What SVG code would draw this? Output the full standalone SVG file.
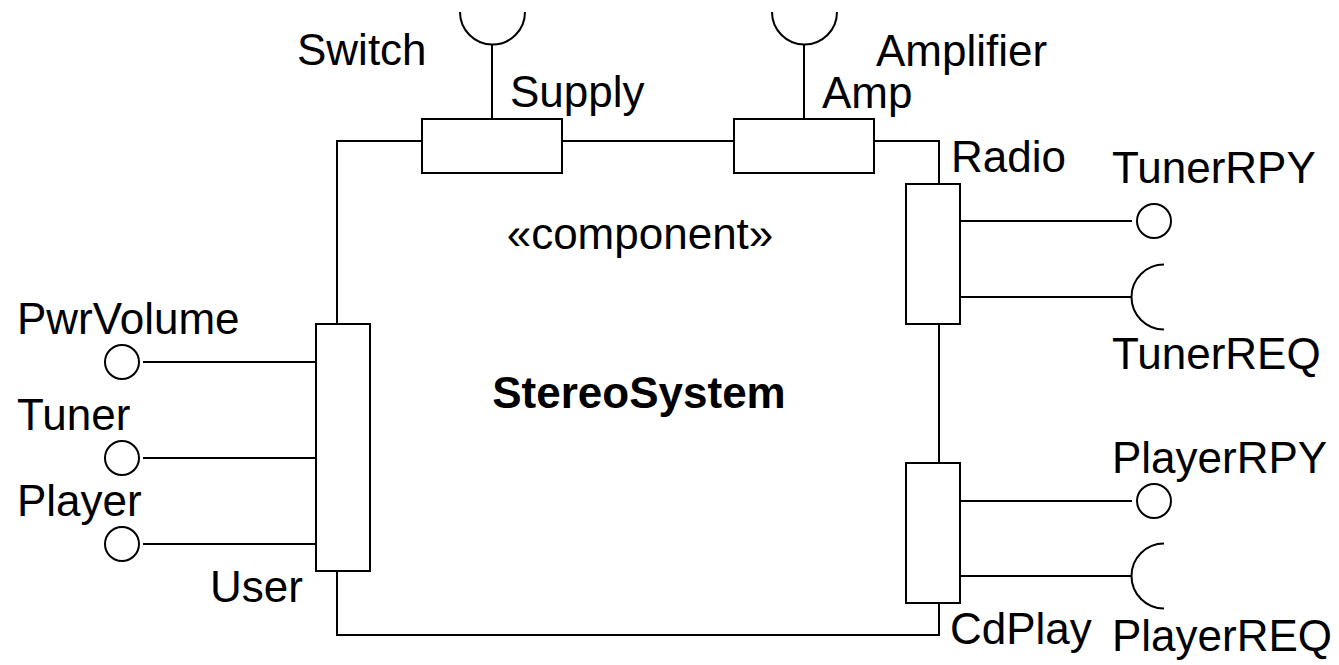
<svg xmlns="http://www.w3.org/2000/svg" width="1339" height="665" viewBox="0 0 1339 665">
<style>
.ln{fill:none;stroke:#000;stroke-width:2}
.port{fill:#fff;stroke:#000;stroke-width:2}
text{font-family:"Liberation Sans",Arial,sans-serif;font-size:44px;fill:#000}
.b{font-weight:bold}
</style>
<rect width="1339" height="665" fill="#fff"/>
<g id="connectors">
<path class="ln" d="M337,324 V141 H422 M562,141 H734 M874,141 H939 V184 M939,324 V463 M939,603 V635 H337 V571"/>
<path class="ln" d="M492,119 V44 M804,119 V44"/>
<path class="ln" d="M143,362 H316 M143,458 H316 M143,544 H316"/>
<path class="ln" d="M960,221 H1132 M960,297 H1132 M960,501 H1132 M960,576 H1132"/>
</g>
<g id="StereoSystem">
<text x="640" y="249" text-anchor="middle">«component»</text>
<text class="b" x="639" y="408" text-anchor="middle">StereoSystem</text>
</g>
<g id="port-Supply">
<rect class="port" x="422" y="119" width="140" height="54"/>
<text x="510" y="107">Supply</text>
</g>
<g id="port-Amp">
<rect class="port" x="734" y="119" width="140" height="54"/>
<text x="822" y="108">Amp</text>
</g>
<g id="port-Radio">
<rect class="port" x="906" y="184" width="54" height="140"/>
<text x="951" y="172">Radio</text>
</g>
<g id="port-CdPlay">
<rect class="port" x="906" y="463" width="54" height="140"/>
<text x="950" y="644">CdPlay</text>
</g>
<g id="port-User">
<rect class="port" x="316" y="324" width="54" height="247"/>
<text x="210" y="602">User</text>
</g>
<g id="iface-Switch">
<path class="ln" d="M460,12 A32.5,32.5 0 0 0 525,12"/>
<text x="297" y="65">Switch</text>
</g>
<g id="iface-Amplifier">
<path class="ln" d="M772,12 A32.5,32.5 0 0 0 837,12"/>
<text x="876" y="66">Amplifier</text>
</g>
<g id="iface-TunerRPY">
<circle class="ln" cx="1154" cy="221" r="17"/>
<text x="1112" y="183">TunerRPY</text>
</g>
<g id="iface-TunerREQ">
<path class="ln" d="M1164,264.5 A32.5,32.5 0 0 0 1164,329.5"/>
<text x="1112" y="369">TunerREQ</text>
</g>
<g id="iface-PlayerRPY">
<circle class="ln" cx="1154" cy="501" r="17"/>
<text x="1112" y="473">PlayerRPY</text>
</g>
<g id="iface-PlayerREQ">
<path class="ln" d="M1164,543.5 A32.5,32.5 0 0 0 1164,608.5"/>
<text x="1112" y="651">PlayerREQ</text>
</g>
<g id="iface-PwrVolume">
<circle class="ln" cx="122" cy="362" r="17"/>
<text x="17" y="334">PwrVolume</text>
</g>
<g id="iface-Tuner">
<circle class="ln" cx="122" cy="458" r="17"/>
<text x="17" y="430">Tuner</text>
</g>
<g id="iface-Player">
<circle class="ln" cx="122" cy="544" r="17"/>
<text x="17" y="516">Player</text>
</g>
</svg>
